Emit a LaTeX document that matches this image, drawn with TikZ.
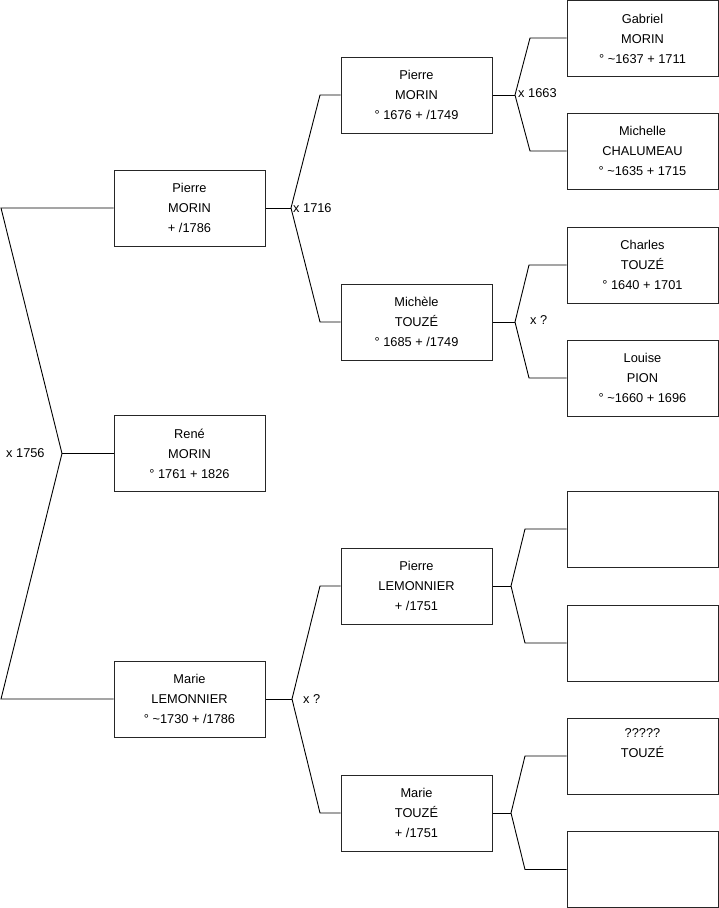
\documentclass[tikz,border=0pt]{standalone}
\usepackage{fontspec}
\setmainfont{Liberation Sans}
\begin{document}
\begin{tikzpicture}[x=1pt,y=-1pt,
  person/.style={draw=black!85, line width=1pt, minimum width=151pt, minimum height=76pt,
    inner sep=0pt, align=center, font=\fontsize{12.8}{20}\selectfont},
  link/.style={draw=black, line width=0.9pt},
  marr/.style={anchor=west, inner sep=0pt, font=\fontsize{12.8}{14}\selectfont}]
\useasboundingbox (0,0) rectangle (719,908);
% generation 1
\node[person] (p1) at (189.5,208) {Pierre\\MORIN\\+ /1786};
\node[person] (r1) at (189.5,453.5) {René\\MORIN\\° 1761 + 1826};
\node[person] (m1) at (189.5,699) {Marie\\LEMONNIER\\° \textasciitilde1730 + /1786};
% generation 2
\node[person] (p2) at (416.5,95) {Pierre\\MORIN\\° 1676 + /1749};
\node[person] (t2) at (416.5,322) {Michèle\\TOUZÉ\\° 1685 + /1749};
\node[person] (l2) at (416.5,586) {Pierre\\LEMONNIER\\+ /1751};
\node[person] (mt2) at (416.5,813) {Marie\\TOUZÉ\\+ /1751};
% generation 3
\node[person] (g3) at (642.5,38.5) {Gabriel\\MORIN\\° \textasciitilde1637 + 1711};
\node[person] (c3) at (642.5,151) {Michelle\\CHALUMEAU\\° \textasciitilde1635 + 1715};
\node[person] (ch3) at (642.5,265) {Charles\\TOUZÉ\\° 1640 + 1701};
\node[person] (lp3) at (642.5,378) {Louise\\PION\\° \textasciitilde1660 + 1696};
\node[person] (e1) at (642.5,529) {};
\node[person] (e2) at (642.5,643) {};
\node[person] (qt3) at (642.5,756) {?????\\TOUZÉ\\\strut};
\node[person] (e4) at (642.5,869.5) {};
% root bracket
\coordinate (v0) at (62,453.5);
\draw[link] (p1.west) -- (1,208) -- (v0) -- (1,699) -- (m1.west);
\draw[link] (v0) -- (r1.west);
\node[marr] (x0) at (6,453) {x 1756};
% brackets gen1 -> gen2
\coordinate (v1) at (291,208);
\draw[link] (p1.east) -- (v1);
\draw[link] (p2.west) -- (320,95) -- (v1) -- (320,322) -- (t2.west);
\node[marr] (x1) at (293,208) {x 1716};
\coordinate (v2) at (292,699);
\draw[link] (m1.east) -- (v2);
\draw[link] (l2.west) -- (320,586) -- (v2) -- (320,813) -- (mt2.west);
\node[marr] (x2) at (303,699) {x ?};
% brackets gen2 -> gen3
\coordinate (v3) at (515,95);
\draw[link] (p2.east) -- (v3);
\draw[link] (g3.west |- 0,38) -- (530,38) -- (v3) -- (530,151) -- (c3.west);
\node[marr] (x3) at (518,93) {x 1663};
\coordinate (v4) at (515,322);
\draw[link] (t2.east) -- (v4);
\draw[link] (ch3.west) -- (529,265) -- (v4) -- (529,378) -- (lp3.west);
\node[marr] (x4) at (530,320) {x ?};
\coordinate (v5) at (511,586);
\draw[link] (l2.east) -- (v5);
\draw[link] (e1.west) -- (525,529) -- (v5) -- (525,643) -- (e2.west);
\coordinate (v6) at (511,813);
\draw[link] (mt2.east) -- (v6);
\draw[link] (qt3.west) -- (525,756) -- (v6) -- (525,869.5) -- (e4.west);
\end{tikzpicture}
\end{document}
